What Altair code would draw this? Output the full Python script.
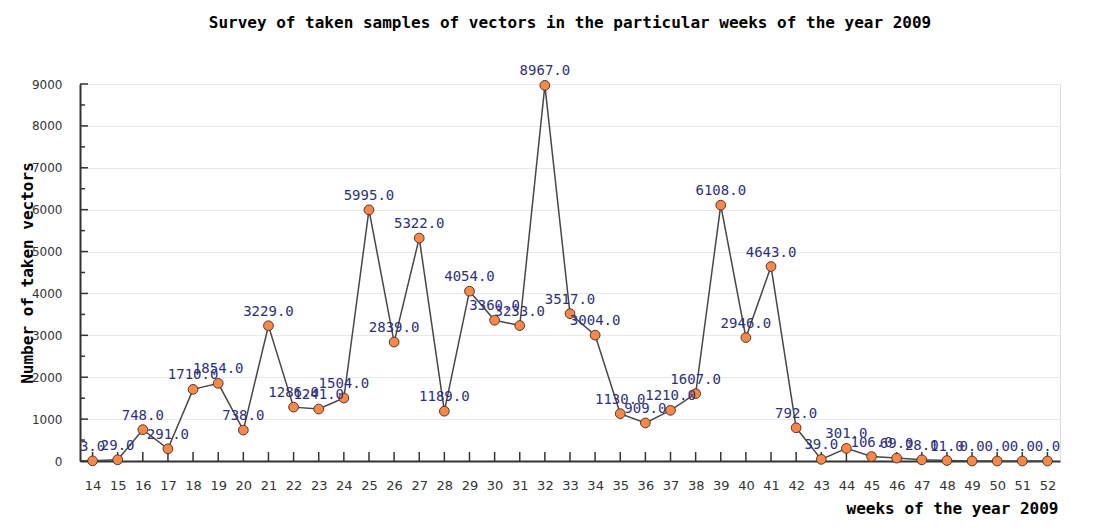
import altair as alt
import pandas as pd

weeks = list(range(14, 53))
samples = [3, 29, 748, 291, 1710, 1854, 738, 3229, 1286, 1241, 1504, 5995, 2839, 5322,
           1189, 4054, 3360, 3233, 8967, 3517, 3004, 1130, 909, 1210, 1607, 6108, 2946,
           4643, 792, 39, 301, 106, 69, 28, 11, 0, 0, 0, 0]
y_major = list(range(0, 9001, 1000))
y_minor = list(range(500, 9000, 1000))

df = pd.DataFrame({"week": weeks, "n": samples})
df["label"] = df["n"].map(lambda v: f"{v:.1f}")

W, H = 980, 377
xs = alt.Scale(domain=[13.5, 52.5], nice=False, zero=False)
ys = alt.Scale(domain=[0, 9000], nice=False)

x_axis = alt.Axis(values=weeks, format="d", ticks=False, grid=False, labelPadding=18,
                  labelOverlap=False, labelFont="DejaVu Sans", labelFontSize=13,
                  labelColor="#333333", domainColor="#333333", domainWidth=2,
                  title="weeks of the year 2009", titleFont="DejaVu Sans Mono",
                  titleFontSize=16, titleFontWeight="bold", titleColor="#000000",
                  titleAnchor="end", titleAlign="right", titleX=W - 2, titleY=47,
                  titleBaseline="middle")
y_axis = alt.Axis(values=y_major, format="d", ticks=False, grid=True, gridColor="#e9e9e9",
                  labelPadding=18, labelOverlap=False, labelFont="DejaVu Sans",
                  labelFontSize=12, labelColor="#333333", domainColor="#333333",
                  domainWidth=2,
                  title="Number of taken vectors", titleFont="DejaVu Sans Mono",
                  titleFontSize=16, titleFontWeight="bold", titleColor="#000000",
                  titleX=-53, titleY=H / 2, titleBaseline="middle", titleAngle=270)

X = alt.X("week:Q", scale=xs, axis=x_axis)
Y = alt.Y("n:Q", scale=ys, axis=y_axis)

base = alt.Chart(df)

line = base.mark_line(color="#474747", strokeWidth=1.5).encode(x=X, y=Y)
xticks = base.mark_rule(color="#333333", strokeWidth=1.5).encode(
    x=X, y=alt.value(H), y2=alt.value(H - 9))
ymaj = alt.Chart(pd.DataFrame({"n": y_major})).mark_rule(color="#333333", strokeWidth=1.5).encode(
    y=Y, x=alt.value(0), x2=alt.value(8))
ymin = alt.Chart(pd.DataFrame({"n": y_minor})).mark_rule(color="#333333", strokeWidth=1.5).encode(
    y=Y, x=alt.value(0), x2=alt.value(5))
pts = base.mark_point(filled=True, fill="#f5894a", stroke="#5a3322", strokeWidth=1,
                      size=95, opacity=1, shape="circle").encode(x=X, y=Y)
labels = base.mark_text(font="DejaVu Sans Mono", fontSize=14, color="#2e2e80",
                        baseline="alphabetic", dy=-10).encode(x=X, y=Y, text="label:N")

chart = alt.layer(line, xticks, ymaj, ymin, pts, labels).properties(
    width=W, height=H,
    title=alt.TitleParams("Survey of taken samples of vectors in the particular weeks of the year 2009",
                          font="DejaVu Sans Mono", fontSize=16, fontWeight="bold",
                          color="#000000", anchor="middle", offset=33),
    autosize=alt.AutoSizeParams(type="none"),
    padding={"left": 72, "top": 76, "right": 44, "bottom": 60},
).configure_view(stroke=None).configure(background="#ffffff").configure_axis(
    labelOverlap=False, labelBound=False, labelFlush=False)

chart.save("out.html", embed_options={"renderer": "svg", "actions": False})
